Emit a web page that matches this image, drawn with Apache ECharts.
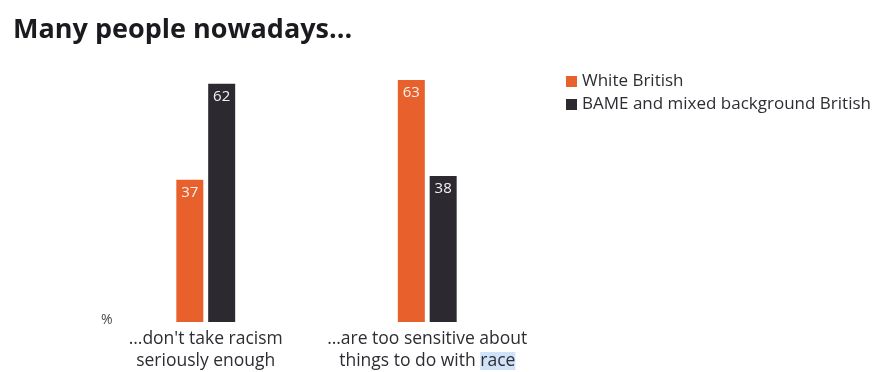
<!DOCTYPE html>
<html>
<head>
<meta charset="utf-8">
<script src="https://cdn.jsdelivr.net/npm/echarts@6/dist/echarts.min.js"></script>
<style>
  html, body { margin: 0; padding: 0; background: #ffffff; }
  #chart { width: 882px; height: 372px; }
</style>
</head>
<body>
<div id="chart"></div>
<script>
// Survey statements (category axis)
const categories = [
  "…don't take racism\nseriously enough",
  "…are too sensitive about\nthings to do with {hl|race}"
];
// Share agreeing, %
const whiteBritish = [37, 63];
const bameBritish = [62, 38];
const seriesNames = ["White British", "BAME and mixed background British"];

const ORANGE = "#e8602c";
const DARK = "#2c2a30";
const FONT = "'Open Sans', sans-serif";

const chart = echarts.init(document.getElementById("chart"), null, { renderer: "canvas" });

const valueLabel = {
  show: true,
  position: "insideTop",
  distance: 5,
  color: "#f4f1f0",
  fontSize: 15,
  fontFamily: FONT
};

chart.setOption({
  animation: false,
  backgroundColor: "#ffffff",
  title: {
    text: "Many people nowadays...",
    left: 8,
    top: 12,
    textStyle: { fontSize: 27, fontWeight: "bold", color: "#1b1b1f", fontFamily: FONT }
  },
  legend: {
    data: seriesNames,
    orient: "vertical",
    left: 561,
    top: 68,
    itemWidth: 11,
    itemHeight: 11,
    itemGap: 6,
    icon: "rect",
    textStyle: { fontSize: 17, color: "#2d2d33", fontFamily: FONT }
  },
  grid: { left: 95, right: 882 - 538, top: 80, bottom: 372 - 325 },
  xAxis: {
    type: "category",
    data: categories,
    axisLine: { show: false },
    axisTick: { show: false },
    axisLabel: {
      interval: 0,
      margin: 6,
      fontSize: 17.5,
      lineHeight: 22,
      color: "#2d2d33",
      fontFamily: FONT,
      rich: {
        hl: { backgroundColor: "#cfe2f7", fontSize: 17.5, color: "#2d2d33", fontFamily: FONT, lineHeight: 22 }
      }
    }
  },
  yAxis: {
    type: "value",
    min: 0,
    max: 63,
    show: false
  },
  graphic: [{
    type: "text",
    left: 101,
    top: 313,
    style: { text: "%", fontSize: 14, fill: "#4a4a50", fontFamily: FONT }
  }],
  series: [
    {
      name: seriesNames[0],
      type: "bar",
      data: whiteBritish,
      barWidth: 27,
      barGap: "18%",
      itemStyle: { color: ORANGE },
      label: valueLabel
    },
    {
      name: seriesNames[1],
      type: "bar",
      data: bameBritish,
      barWidth: 27,
      itemStyle: { color: DARK },
      label: valueLabel
    }
  ]
});
</script>
</body>
</html>
